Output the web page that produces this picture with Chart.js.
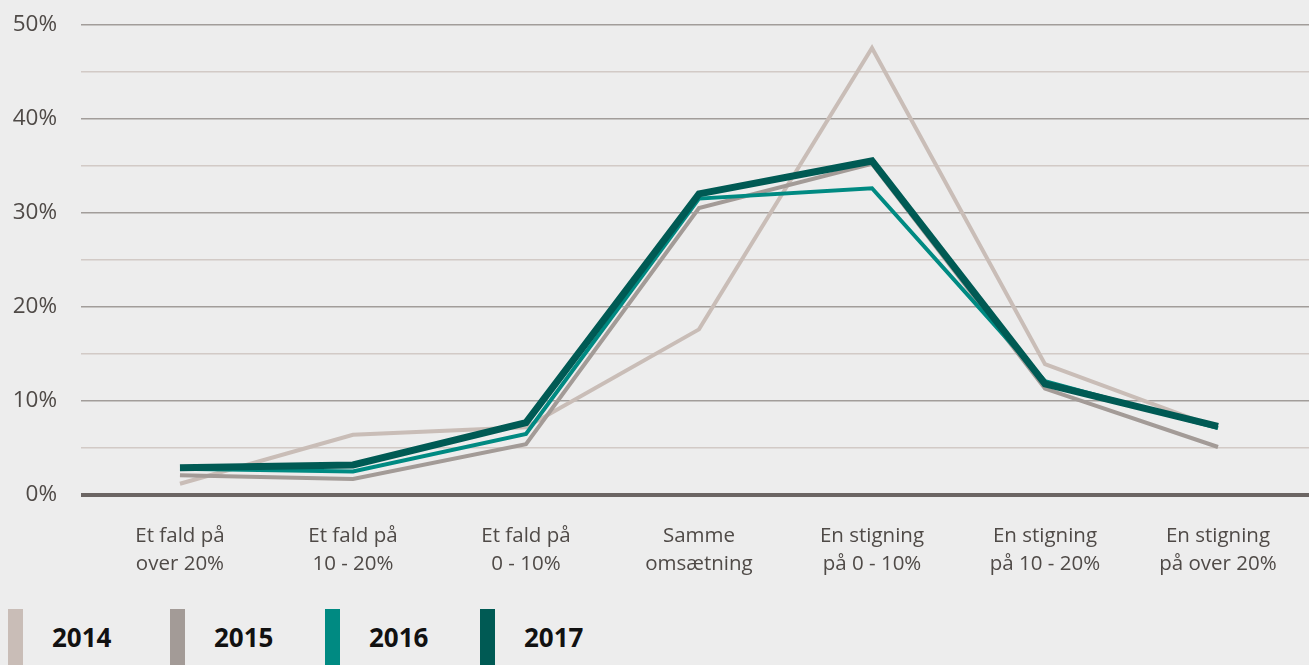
<!DOCTYPE html>
<html>
<head>
<meta charset="utf-8">
<script src="https://cdn.jsdelivr.net/npm/chart.js@4/dist/chart.umd.min.js"></script>
<style>
  html, body { margin: 0; padding: 0; background: #ededed; }
  body { width: 1309px; height: 665px; position: relative; overflow: hidden; font-family: "Open Sans", sans-serif; }
  #wrap { position: absolute; left: 0; top: -13px; width: 1309px; height: 613px; }
  .legend-item { position: absolute; top: 609px; height: 56px; }
  .legend-item .swatch { position: absolute; left: 0; top: 0; width: 15px; height: 56px; }
  .legend-item .label { position: absolute; left: 44px; top: 10px; font-weight: bold; font-size: 26px; color: #111; white-space: nowrap; }
</style>
</head>
<body>
<div id="wrap"><canvas id="chart"></canvas></div>
<div id="legend"></div>
<script>
const categories = [
    ['Et fald på', 'over 20%'],
    ['Et fald på', '10 - 20%'],
    ['Et fald på', '0 - 10%'],
    ['Samme', 'omsætning'],
    ['En stigning', 'på 0 - 10%'],
    ['En stigning', 'på 10 - 20%'],
    ['En stigning', 'på over 20%']
];
const years = ['2014', '2015', '2016', '2017'];
const values2014 = [1.2, 6.4, 7.2, 17.6, 47.5, 13.9, 7.1];
const values2015 = [2.1, 1.7, 5.4, 30.5, 35.2, 11.3, 5.1];
const values2016 = [2.8, 2.5, 6.5, 31.5, 32.6, 12.1, 7.1];
const values2017 = [2.9, 3.2, 7.7, 32.0, 35.5, 11.8, 7.3];
const yTicks = [0, 10, 20, 30, 40, 50];

const colors = ['#c9bdb7', '#a39b97', '#008a82', '#005a54'];
const widths = [4, 4, 4, 7];
const series = [values2014, values2015, values2016, values2017];

const toPoints = (arr) => arr.map((v, i) => ({ x: i, y: v }));

const datasets = series.map((vals, k) => ({
    label: years[k],
    data: toPoints(vals),
    borderColor: colors[k],
    backgroundColor: colors[k],
    borderWidth: widths[k],
    borderJoinStyle: 'miter',
    borderCapStyle: 'butt',
    pointRadius: 0,
    tension: 0,
    order: 4 - k
}));

new Chart(document.getElementById('chart'), {
    type: 'line',
    data: { datasets: datasets },
    options: {
        responsive: true,
        maintainAspectRatio: false,
        animation: false,
        layout: { padding: { top: 11, right: 0, left: 0, bottom: 0 } },
        plugins: {
            legend: { display: false },
            tooltip: { enabled: false }
        },
        scales: {
            x: {
                type: 'linear',
                min: -0.572,
                max: 6.526,
                afterBuildTicks: (axis) => {
                    axis.ticks = categories.map((_, i) => ({ value: i }));
                },
                afterFit: (axis) => { axis.height = 105; },
                grid: { display: false, drawTicks: false },
                border: { display: false },
                ticks: {
                    autoSkip: false,
                    maxRotation: 0,
                    padding: 27,
                    color: '#4f4a47',
                    font: { family: '"Open Sans", sans-serif', size: 20.5, lineHeight: 1.37 },
                    callback: (value) => categories[value] || ''
                }
            },
            y: {
                min: 0,
                max: 50,
                afterBuildTicks: (axis) => {
                    const t = [];
                    for (let v = 0; v <= 50; v += 5) t.push({ value: v });
                    axis.ticks = t;
                },
                afterFit: (axis) => { axis.width = 81; },
                border: { display: false },
                grid: {
                    drawTicks: false,
                    color: (ctx) => {
                        const v = ctx.tick.value;
                        if (v === 0) return '#6b6563';
                        return v % 10 === 0 ? '#a29d9a' : '#d2cac6';
                    },
                    lineWidth: (ctx) => ctx.tick.value === 0 ? 4 : 1.5
                },
                ticks: {
                    padding: 24,
                    color: '#4f4a47',
                    font: { family: '"Open Sans", sans-serif', size: 22.5 },
                    callback: (value) => yTicks.includes(value) ? value + '%' : ''
                }
            }
        }
    }
});

// legend with tall colour bars
const legendEl = document.getElementById('legend');
const legendX = [8, 170, 325, 480];
years.forEach((y, k) => {
    const item = document.createElement('div');
    item.className = 'legend-item';
    item.style.left = legendX[k] + 'px';
    item.innerHTML = '<div class="swatch" style="background:' + colors[k] + '"></div><div class="label">' + y + '</div>';
    legendEl.appendChild(item);
});
</script>
</body>
</html>
